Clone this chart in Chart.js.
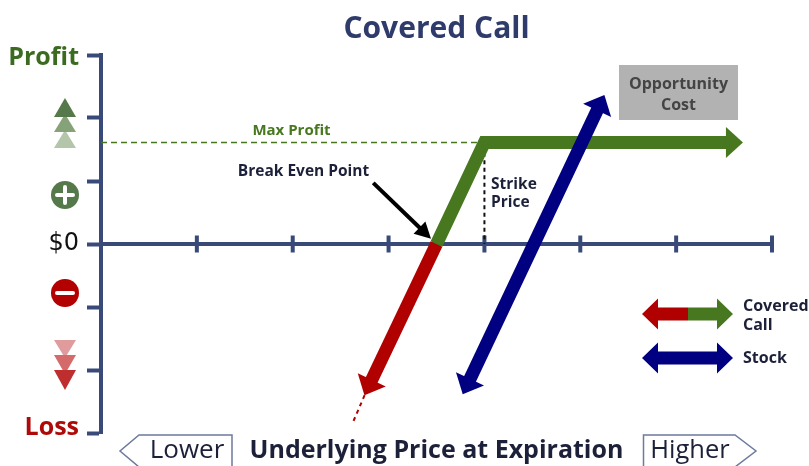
<!DOCTYPE html>
<html>
<head>
<meta charset="utf-8">
<style>html,body{margin:0;padding:0;background:#fff}canvas{display:block}</style>
<script src="https://cdn.jsdelivr.net/npm/chart.js@4/dist/chart.umd.min.js"></script>
</head>
<body>
<canvas id="c" width="809" height="466"></canvas>
<script>
const titleText = 'Covered Call';
const xAxisTitle = 'Underlying Price at Expiration';
const xTickValues = [1, 2, 3, 4, 5, 6, 7];
const yTickValues = [3, 2, 1, 0, -1, -2, -3];
const yTickLabels = ['Profit', '', '', '$0', '', '', 'Loss'];

const coveredUpX = [3.5, 4, 6.53];
const coveredUpY = [0, 1.61, 1.61];
const coveredDownX = [3.5, 2.82];
const coveredDownY = [0, -2.17];
const coveredDottedX = [2.75, 2.62];
const coveredDottedY = [-2.4, -2.86];
const stockX = [3.845, 5.18];
const stockY = [-2.157, 2.135];
const maxProfitX = [0, 4];
const maxProfitY = [1.61, 1.61];
const strikeX = [4, 4];
const strikeY = [1.45, 0];
const breakEvenX = [2.84, 3.33];
const breakEvenY = [0.97, 0.25];

const NAVY = '#3a4a78', GREEN = '#47781f', RED = '#b00000', BLUE = '#000080', INK = '#1c2038';
const FONT = '"Open Sans", sans-serif';
const pts = (xs, ys) => xs.map((x, i) => ({x, y: ys[i]}));
const line = (label, xs, ys, color, width, order, extra) => Object.assign({
  label, data: pts(xs, ys), borderColor: color, backgroundColor: color, borderWidth: width,
  pointRadius: 0, tension: 0, order, borderJoinStyle: 'miter', borderCapStyle: 'butt'
}, extra || {});

function head(ctx, from, to, color, len, wid) {
  const a = Math.atan2(to.y - from.y, to.x - from.x);
  ctx.save();
  ctx.translate(to.x, to.y);
  ctx.rotate(a);
  ctx.fillStyle = color;
  ctx.beginPath();
  ctx.moveTo(len, 0);
  ctx.lineTo(-1, -wid / 2);
  ctx.lineTo(-1, wid / 2);
  ctx.closePath();
  ctx.fill();
  ctx.restore();
}

const arrowHeads = {
  id: 'arrowHeads',
  afterDatasetDraw(chart, args) {
    const ds = chart.data.datasets[args.index];
    if (!ds.head) return;
    const p = args.meta.data, n = p.length, ctx = chart.ctx;
    if (ds.head.end) head(ctx, p[n - 2], p[n - 1], ds.borderColor, ds.head.len, ds.head.wid);
    if (ds.head.start) head(ctx, p[1], p[0], ds.borderColor, ds.head.len, ds.head.wid);
  }
};

function text(ctx, s, x, y, font, color, align) {
  ctx.font = font; ctx.fillStyle = color; ctx.textAlign = align || 'left'; ctx.textBaseline = 'middle';
  ctx.fillText(s, x, y);
}
function tri(ctx, x, tipY, baseY, w, color) {
  ctx.fillStyle = color; ctx.beginPath();
  ctx.moveTo(x, tipY); ctx.lineTo(x - w / 2, baseY); ctx.lineTo(x + w / 2, baseY); ctx.closePath(); ctx.fill();
}
function badge(ctx, x, y, r, color, plus) {
  ctx.fillStyle = color; ctx.beginPath(); ctx.arc(x, y, r, 0, Math.PI * 2); ctx.fill();
  ctx.strokeStyle = '#fff'; ctx.lineWidth = 4; ctx.lineCap = 'round'; ctx.beginPath();
  ctx.moveTo(x - 8, y); ctx.lineTo(x + 8, y);
  if (plus) { ctx.moveTo(x, y - 8); ctx.lineTo(x, y + 8); }
  ctx.stroke(); ctx.lineCap = 'butt';
}
function keyArrow(ctx, y, c1, c2) {
  const l = 642, m = 688, r = 733, hl = 16, sh = 6.5, hw = 15.5;
  ctx.fillStyle = c1; ctx.beginPath();
  ctx.moveTo(l, y); ctx.lineTo(l + hl, y - hw); ctx.lineTo(l + hl, y - sh); ctx.lineTo(m, y - sh);
  ctx.lineTo(m, y + sh); ctx.lineTo(l + hl, y + sh); ctx.lineTo(l + hl, y + hw); ctx.closePath(); ctx.fill();
  ctx.fillStyle = c2; ctx.beginPath();
  ctx.moveTo(r, y); ctx.lineTo(r - hl, y - hw); ctx.lineTo(r - hl, y - sh); ctx.lineTo(m, y - sh);
  ctx.lineTo(m, y + sh); ctx.lineTo(r - hl, y + sh); ctx.lineTo(r - hl, y + hw); ctx.closePath(); ctx.fill();
}

const annotations = {
  id: 'annotations',
  afterDraw(chart) {
    const ctx = chart.ctx;
    ctx.save();
    // grey note
    ctx.fillStyle = '#b2b2b2'; ctx.fillRect(619, 65, 119, 55);
    text(ctx, 'Opportunity', 678.5, 84, '700 16px ' + FONT, '#444', 'center');
    text(ctx, 'Cost', 678.5, 105, '700 16px ' + FONT, '#444', 'center');
    // inline labels
    text(ctx, 'Max Profit', 291.5, 131, '700 15px ' + FONT, GREEN, 'center');
    text(ctx, 'Break Even Point', 303.5, 172, '700 15.5px ' + FONT, INK, 'center');
    text(ctx, 'Strike', 491, 185, '700 15.5px ' + FONT, INK);
    text(ctx, 'Price', 491, 203, '700 15.5px ' + FONT, INK);
    // side icons
    tri(ctx, 65, 130, 148, 22, '#b3c6aa');
    tri(ctx, 65, 114, 132, 22, '#85a279');
    tri(ctx, 65, 98, 117, 22, '#55794a');
    badge(ctx, 65, 195, 14, '#55794a', true);
    badge(ctx, 65, 293, 14, '#b30000', false);
    tri(ctx, 65, 358, 340, 22, '#e09c9c');
    tri(ctx, 65, 374, 355, 22, '#d46a6a');
    tri(ctx, 65, 390, 370, 22, '#bf2e2e');
    // key
    keyArrow(ctx, 314, RED, GREEN);
    keyArrow(ctx, 358, BLUE, BLUE);
    text(ctx, 'Covered', 743, 306, '700 16px ' + FONT, INK);
    text(ctx, 'Call', 743, 325, '700 16px ' + FONT, INK);
    text(ctx, 'Stock', 743, 358, '700 16px ' + FONT, INK);
    // direction tags
    ctx.strokeStyle = '#6d7a9c'; ctx.lineWidth = 1.5;
    ctx.beginPath(); ctx.moveTo(232, 467); ctx.lineTo(232, 435); ctx.lineTo(139, 435); ctx.lineTo(120, 451); ctx.lineTo(139, 467); ctx.stroke();
    ctx.beginPath(); ctx.moveTo(643.5, 467); ctx.lineTo(643.5, 435); ctx.lineTo(735, 435); ctx.lineTo(756, 451); ctx.lineTo(735, 467); ctx.stroke();
    text(ctx, 'Lower', 187, 451, '400 26px ' + FONT, INK, 'center');
    text(ctx, 'Higher', 690, 451, '400 25.5px ' + FONT, INK, 'center');
    ctx.restore();
  }
};

new Chart(document.getElementById('c'), {
  type: 'line',
  data: {
    datasets: [
      line('Max Profit', maxProfitX, maxProfitY, GREEN, 1.6, 6, {borderDash: [6, 4]}),
      line('Strike', strikeX, strikeY, '#111', 2, 5, {borderDash: [4, 3.5]}),
      line('Ticks', xTickValues, xTickValues.map(() => 0), NAVY, 4, 7, {
        showLine: false, clip: false, pointStyle: 'line', pointRadius: 8.5, pointRotation: 90, pointBorderWidth: 4, pointBorderColor: NAVY
      }),
      line('Covered down', coveredDownX, coveredDownY, RED, 13, 4, {head: {end: true, len: 16, wid: 31}}),
      line('Covered dotted', coveredDottedX, coveredDottedY, RED, 2, 4, {borderDash: [4, 4]}),
      line('Covered up', coveredUpX, coveredUpY, GREEN, 13, 3, {head: {end: true, len: 16, wid: 31}}),
      line('Stock', stockX, stockY, BLUE, 13, 2, {head: {start: true, end: true, len: 16, wid: 31}}),
      line('Break even', breakEvenX, breakEvenY, '#000', 4, 1, {head: {end: true, len: 15, wid: 17}})
    ]
  },
  options: {
    responsive: false,
    animation: false,
    layout: {padding: {left: 0, right: 37, top: 0, bottom: 0}},
    plugins: {
      legend: {display: false},
      tooltip: {enabled: false},
      title: {
        display: true, text: titleText, fullSize: false, color: '#2f3b6b',
        font: {family: FONT, size: 30, weight: '700', lineHeight: 1.2},
        padding: {top: 11, bottom: 8}
      }
    },
    scales: {
      x: {
        type: 'linear', min: 0, max: 7, position: {y: 0},
        grid: {display: false}, ticks: {display: false},
        border: {color: NAVY, width: 4}
      },
      x2: {
        type: 'linear', min: 0, max: 7, position: 'bottom',
        afterFit(s) { s.height = 33; },
        grid: {display: false}, ticks: {display: false}, border: {display: false},
        title: {
          display: true, text: xAxisTitle, color: INK,
          font: {family: FONT, size: 25, weight: '700', lineHeight: 1.2},
          padding: {top: 4, bottom: 0}
        }
      },
      y: {
        type: 'linear', min: -3, max: 3, position: 'left',
        afterFit(s) { s.width = 101; },
        grid: {drawOnChartArea: false, drawTicks: true, tickLength: 14, tickWidth: 4, tickColor: NAVY},
        border: {color: NAVY, width: 4},
        afterBuildTicks(s) { s.ticks = yTickValues.map(v => ({value: v})); },
        ticks: {
          padding: 8,
          callback(v) {
            const t = yTickLabels[yTickValues.indexOf(v)];
            return t === 'Loss' ? [t, ''] : t === 'Profit' ? ['', t] : t;
          },
          color(c) { const v = c.tick && c.tick.value; return v > 0 ? '#3b6b20' : v < 0 ? '#ae0a0a' : '#111'; },
          font(c) {
            const v = c.tick && c.tick.value;
            return v === 0
              ? {family: '"DejaVu Sans", sans-serif', size: 24, weight: '400'}
              : {family: FONT, size: 25, weight: '700', lineHeight: v < 0 ? 0.4 : 0.24};
          }
        }
      }
    }
  },
  plugins: [arrowHeads, annotations]
});
</script>
</body>
</html>
